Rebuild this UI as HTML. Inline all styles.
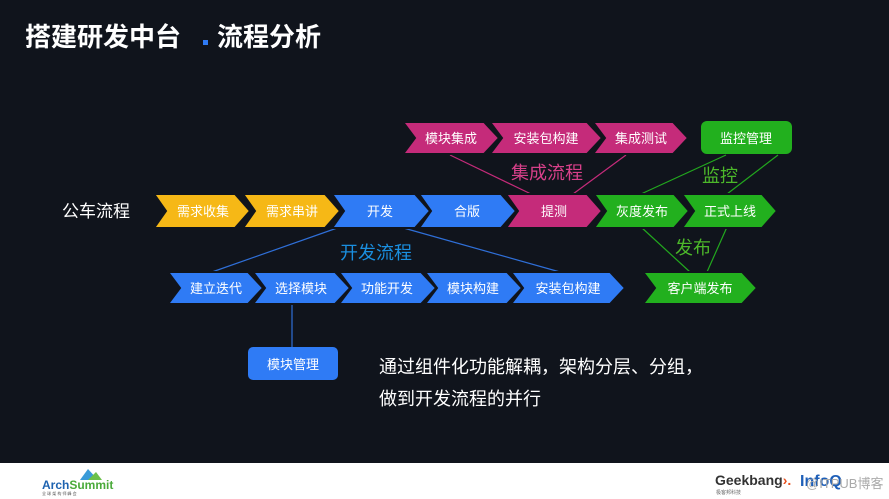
<!DOCTYPE html>
<html><head><meta charset="utf-8"><style>
html,body{margin:0;padding:0;background:#10141c;}
svg{display:block;}
text{font-family:"Liberation Sans","Noto Sans CJK SC",sans-serif;}
polygon{stroke:#10141c;stroke-width:2;stroke-linejoin:miter;}
</style></head><body>
<svg width="889" height="499" viewBox="0 0 889 499" xmlns="http://www.w3.org/2000/svg">
<rect x="0" y="0" width="889" height="463" fill="#10141c"/>
<rect x="0" y="463" width="889" height="36" fill="#ffffff"/>
<text x="25" y="46" font-size="26" font-weight="bold" fill="#ffffff">搭建研发中台</text>
<rect x="203" y="40" width="5" height="5" fill="#2f7bf5"/>
<text x="217" y="46" font-size="26" font-weight="bold" fill="#ffffff">流程分析</text>

<!-- connectors -->
<g stroke-width="1.2">
<line x1="340" y1="227" x2="212" y2="272" stroke="#2f6fd8"/>
<line x1="400" y1="227" x2="560" y2="272" stroke="#2f6fd8"/>
<line x1="450" y1="155" x2="531" y2="194" stroke="#c52b7a"/>
<line x1="626" y1="155" x2="573" y2="194" stroke="#c52b7a"/>
<line x1="726" y1="155" x2="641" y2="194" stroke="#22a81e"/>
<line x1="778" y1="155" x2="727" y2="194" stroke="#22a81e"/>
<line x1="641" y1="227" x2="690" y2="272" stroke="#22a81e"/>
<line x1="727" y1="227" x2="707" y2="272" stroke="#22a81e"/>
<line x1="292" y1="304" x2="292" y2="347" stroke="#2f6fd8"/>
</g>

<text x="62" y="217" font-size="17" fill="#ffffff">公车流程</text>

<g font-size="13" fill="#ffffff" text-anchor="middle">
<!-- main row -->
<polygon points="154,194 235,194 250,211 235,228 154,228 166,211" fill="#f6b816"/>
<text x="203" y="216">需求收集</text>
<polygon points="243,194 325,194 340,211 325,228 243,228 255,211" fill="#f6b816"/>
<text x="292" y="216">需求串讲</text>
<polygon points="332,194 415,194 430,211 415,228 332,228 344,211" fill="#2f7bf5"/>
<text x="380" y="216">开发</text>
<polygon points="419,194 501,194 516,211 501,228 419,228 431,211" fill="#2f7bf5"/>
<text x="467" y="216">合版</text>
<polygon points="506,194 587,194 602,211 587,228 506,228 518,211" fill="#c52b7a"/>
<text x="554" y="216">提测</text>
<polygon points="594,194 674,194 689,211 674,228 594,228 606,211" fill="#22b01e"/>
<text x="642" y="216">灰度发布</text>
<polygon points="682,194 762,194 777,211 762,228 682,228 694,211" fill="#22b01e"/>
<text x="730" y="216">正式上线</text>

<!-- top row -->
<polygon points="403,122 484,122 499,138 484,154 403,154 415,138" fill="#c52b7a"/>
<text x="451" y="143">模块集成</text>
<polygon points="490,122 587,122 602,138 587,154 490,154 502,138" fill="#c52b7a"/>
<text x="546" y="143">安装包构建</text>
<polygon points="593,122 673,122 688,138 673,154 593,154 605,138" fill="#c52b7a"/>
<text x="641" y="143">集成测试</text>
<rect x="701" y="121" width="91" height="33" rx="6" fill="#22b01e"/>
<text x="746" y="143">监控管理</text>

<!-- bottom row -->
<polygon points="168,272 248,272 263,288 248,304 168,304 180,288" fill="#2f7bf5"/>
<text x="216" y="293">建立迭代</text>
<polygon points="253,272 335,272 350,288 335,304 253,304 265,288" fill="#2f7bf5"/>
<text x="301" y="293">选择模块</text>
<polygon points="339,272 421,272 436,288 421,304 339,304 351,288" fill="#2f7bf5"/>
<text x="387" y="293">功能开发</text>
<polygon points="425,272 507,272 522,288 507,304 425,304 437,288" fill="#2f7bf5"/>
<text x="473" y="293">模块构建</text>
<polygon points="511,272 610,272 625,288 610,304 511,304 523,288" fill="#2f7bf5"/>
<text x="568" y="293">安装包构建</text>
<polygon points="643,272 742,272 757,288 742,304 643,304 655,288" fill="#22b01e"/>
<text x="700" y="293">客户端发布</text>

<rect x="248" y="347" width="90" height="33" rx="5" fill="#2f7bf5"/>
<text x="293" y="369">模块管理</text>
</g>

<text x="340" y="259" font-size="18" fill="#1a8fe0">开发流程</text>
<text x="511" y="179" font-size="18" fill="#d8408a">集成流程</text>
<text x="702" y="182" font-size="18" fill="#4cb82a">监控</text>
<text x="675" y="254" font-size="18" fill="#4cb82a">发布</text>

<text x="379" y="373" font-size="18" fill="#ffffff">通过组件化功能解耦，架构分层、分组，</text>
<text x="379" y="405" font-size="18" fill="#ffffff">做到开发流程的并行</text>

<!-- footer logos -->
<polygon points="80,480 88,469 98,480" fill="#3a9bd8" style="stroke:none"/>
<polygon points="88,480 96,472 102,480" fill="#6cc04a" style="stroke:none"/>
<text x="42" y="489" font-size="12" font-weight="bold" fill="#1e63b0">Arch<tspan fill="#4aaa3a">Summit</tspan></text>
<text x="42" y="495" font-size="4" fill="#555">全 球 架 构 师 峰 会</text>
<text x="715" y="485" font-size="14" font-weight="bold" fill="#333">Geek<tspan fill="#333">bang</tspan><tspan fill="#e8501e">›.</tspan></text>
<text x="716" y="494" font-size="5" fill="#666">极客邦科技</text>
<text x="800" y="486" font-size="16" font-weight="bold" fill="#1e5fb8">InfoQ</text>
<text x="806" y="488" font-size="13" fill="#aaaaaa">@ITPUB博客</text>
</svg>
</body></html>
